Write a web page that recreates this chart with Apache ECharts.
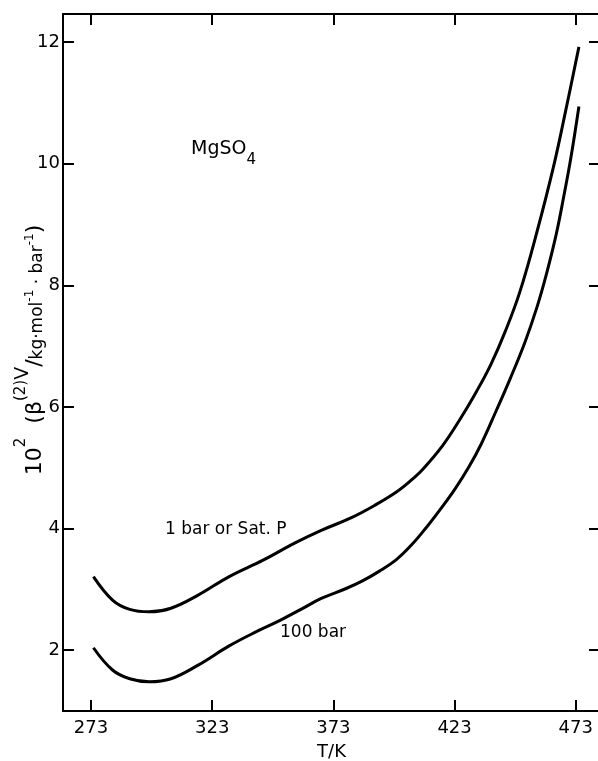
<!DOCTYPE html>
<html>
<head>
<meta charset="utf-8">
<script src="https://cdn.jsdelivr.net/npm/echarts@6/dist/echarts.min.js"></script>
<style>
  html, body { margin: 0; padding: 0; background: #fff; }
  #chart { width: 598px; height: 761px; }
</style>
</head>
<body>
<div id="chart"></div>
<script>
// 温度刻度 / 纵轴刻度
const xTicks = [273, 323, 373, 423, 473];
const yTicks = [2, 4, 6, 8, 10, 12];

// 1 bar or Sat. P
const tempUpper = [274, 282, 289, 297, 306, 317, 330, 344, 357, 368, 380, 390, 399, 405, 410, 418, 425, 432, 438, 444, 450, 457, 464, 469, 474.3];
const valUpper  = [3.21, 2.82, 2.67, 2.63, 2.69, 2.90, 3.21, 3.48, 3.76, 3.97, 4.17, 4.38, 4.60, 4.79, 4.98, 5.36, 5.78, 6.25, 6.70, 7.25, 7.90, 8.88, 9.98, 10.90, 11.92];

// 100 bar
const tempLower = [274, 282, 289, 297, 306, 317, 330, 341, 351, 360, 368, 378, 385, 392, 399, 405, 411, 417, 423, 429, 434, 440, 446, 452, 457, 461, 465, 468, 471, 474.3];
const valLower  = [2.04, 1.67, 1.53, 1.48, 1.53, 1.75, 2.07, 2.30, 2.49, 2.68, 2.85, 3.01, 3.14, 3.30, 3.49, 3.72, 4.00, 4.31, 4.64, 5.02, 5.39, 5.92, 6.47, 7.06, 7.64, 8.20, 8.85, 9.45, 10.10, 10.94];

const font = 'DejaVu Sans';
const mChart = echarts.init(document.getElementById('chart'));

const xBase = {
  type: 'value',
  min: 261.45,
  max: 483.0,
  splitLine: { show: false },
  axisLine: { lineStyle: { color: '#000', width: 2 } },
  axisTick: { inside: true, length: 11, customValues: xTicks, lineStyle: { color: '#000', width: 2 } }
};
const yBase = {
  type: 'value',
  min: 1.0,
  max: 12.46,
  splitLine: { show: false },
  axisLine: { lineStyle: { color: '#000', width: 2 } },
  axisTick: { inside: true, length: 11, customValues: yTicks, lineStyle: { color: '#000', width: 2 } }
};

const option = {
  animation: false,
  backgroundColor: '#fff',
  grid: { left: 63, top: 14, right: -2, bottom: 50, containLabel: false, outerBoundsMode: 'none' },
  xAxis: [
    Object.assign({}, xBase, {
      position: 'bottom',
      name: 'T/K',
      nameLocation: 'middle',
      nameGap: 32,
      nameTextStyle: { color: '#000', fontFamily: font, fontSize: 18 },
      axisLabel: { customValues: xTicks, color: '#000', fontFamily: font, fontSize: 18, margin: 8 }
    }),
    Object.assign({}, xBase, {
      position: 'top',
      axisLabel: { show: false }
    })
  ],
  yAxis: [
    Object.assign({}, yBase, {
      position: 'left',
      axisLabel: { customValues: yTicks, color: '#000', fontFamily: font, fontSize: 18, margin: 3 }
    }),
    Object.assign({}, yBase, {
      position: 'right',
      axisLine: { show: false },
      axisLabel: { show: false }
    })
  ],
  graphic: [
    {
      type: 'text',
      x: 30,
      y: 350,
      rotation: Math.PI / 2,
      style: {
        text: '{n|10}{s|2}{n|  (β}{s|(2)}{v|V}{n|/}{k|kg·mol}{e|-1}{k| · bar}{e|-1}{n|)}',
        align: 'center',
        verticalAlign: 'middle',
        fill: '#000',
        rich: {
          n: { fontFamily: font, fontSize: 22, lineHeight: 32, verticalAlign: 'bottom', fill: '#000' },
          s: { fontFamily: font, fontSize: 15, lineHeight: 32, verticalAlign: 'top', fill: '#000' },
          v: { fontFamily: font, fontSize: 19, lineHeight: 32, verticalAlign: 'top', fill: '#000' },
          k: { fontFamily: font, fontSize: 17, lineHeight: 32, verticalAlign: 'bottom', fill: '#000' },
          e: { fontFamily: font, fontSize: 12, lineHeight: 32, verticalAlign: 'middle', fill: '#000' }
        }
      }
    },
    {
      type: 'text',
      x: 191,
      y: 154,
      style: {
        text: '{m|MgSO}{d|4}',
        verticalAlign: 'middle',
        rich: {
          m: { fontFamily: font, fontSize: 19, lineHeight: 28, verticalAlign: 'top', fill: '#000' },
          d: { fontFamily: font, fontSize: 15, lineHeight: 28, verticalAlign: 'bottom', fill: '#000' }
        }
      }
    },
    {
      type: 'text',
      x: 165,
      y: 530,
      style: { text: '1 bar or Sat. P', fontFamily: font, fontSize: 17, fill: '#000', verticalAlign: 'middle' }
    },
    {
      type: 'text',
      x: 280,
      y: 633,
      style: { text: '100 bar', fontFamily: font, fontSize: 17, fill: '#000', verticalAlign: 'middle' }
    }
  ],
  series: [
    {
      name: '1 bar or Sat. P',
      type: 'line',
      smooth: 0.4,
      showSymbol: false,
      lineStyle: { color: '#000', width: 3 },
      data: tempUpper.map((t, i) => [t, valUpper[i]])
    },
    {
      name: '100 bar',
      type: 'line',
      smooth: 0.4,
      showSymbol: false,
      lineStyle: { color: '#000', width: 3 },
      data: tempLower.map((t, i) => [t, valLower[i]])
    }
  ]
};
mChart.setOption(option);
</script>
</body>
</html>
